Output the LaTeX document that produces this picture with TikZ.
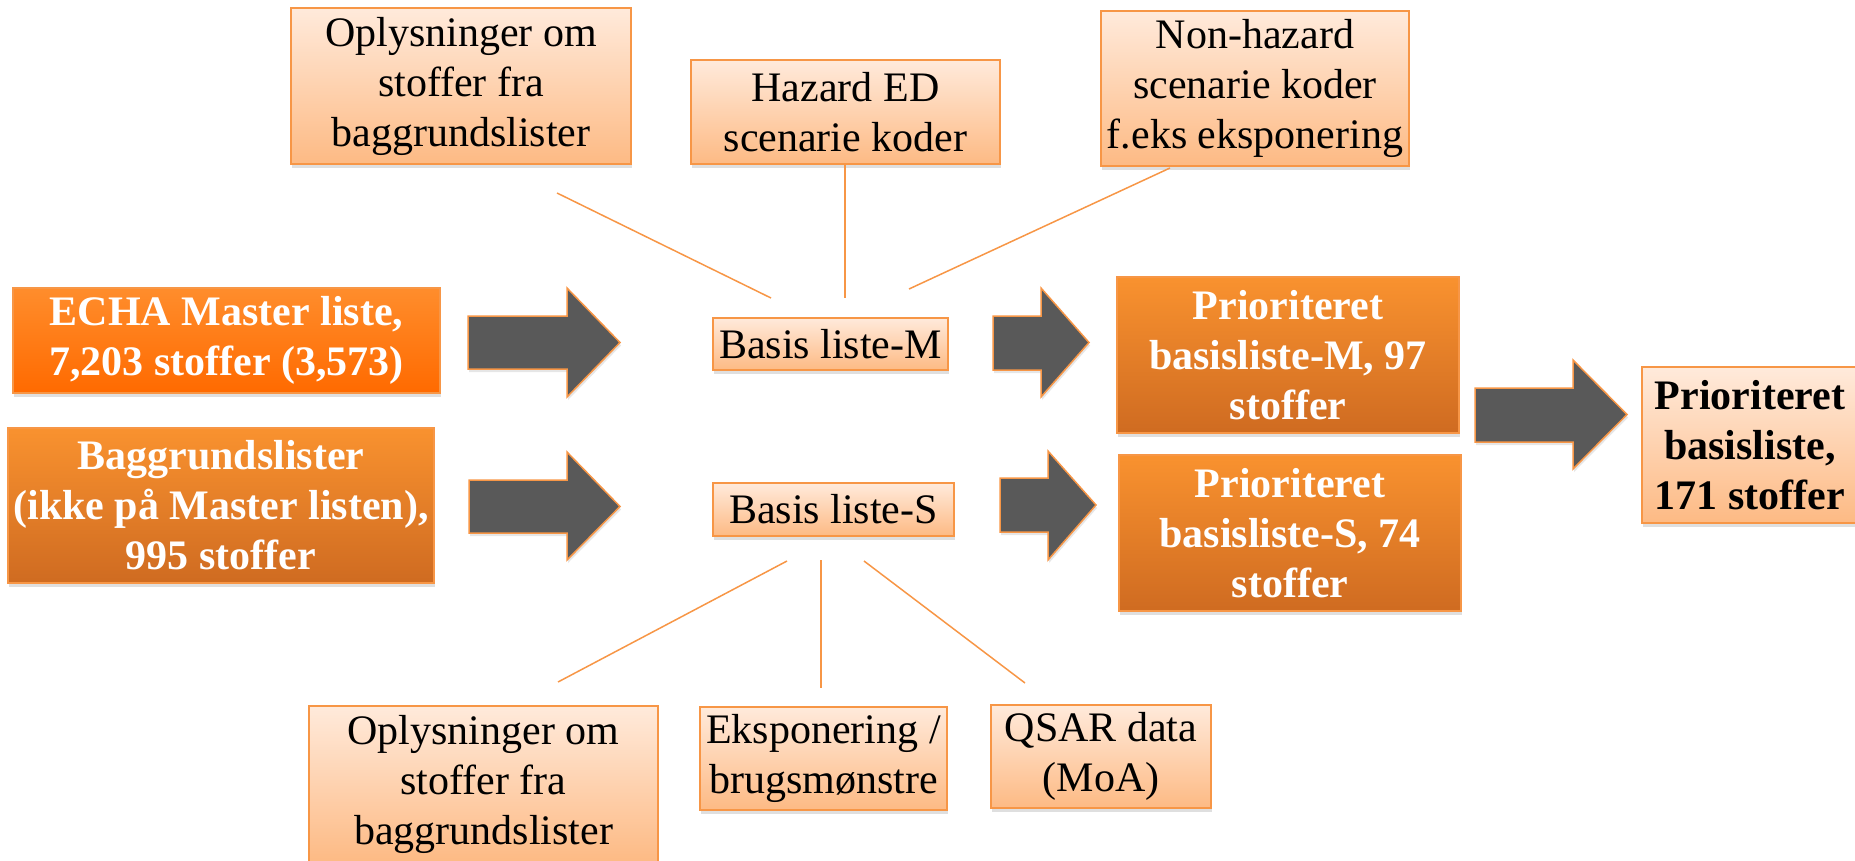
\documentclass[tikz,border=0pt]{standalone}
\usepackage{fontspec}
\setmainfont{Liberation Serif}
\usetikzlibrary{shadows}
\definecolor{accent}{HTML}{F79646}
\definecolor{lightT}{HTML}{FFEADB}
\definecolor{lightB}{HTML}{FDBA84}
\definecolor{darkT}{HTML}{F9922F}
\definecolor{darkB}{HTML}{CF6B21}
\definecolor{echaT}{HTML}{FF8D2C}
\definecolor{echaB}{HTML}{FF6A00}
\definecolor{arrowgray}{HTML}{595959}
\tikzset{
  box/.style={draw=accent, line width=1.5pt, inner sep=0pt, align=center,
    drop shadow={shadow xshift=1pt, shadow yshift=-4pt, opacity=0.25}},
  light/.style={box, top color=lightT, bottom color=lightB, text=black,
    font=\fontsize{42}{50}\selectfont},
  lightbold/.style={light, font=\fontsize{42}{50}\selectfont\bfseries},
  dark/.style={box, top color=darkT, bottom color=darkB, text=white,
    font=\fontsize{42}{50}\selectfont\bfseries},
  echa/.style={dark, top color=echaT, bottom color=echaB},
  blockarrow/.style={fill=arrowgray, draw=accent, line width=1.5pt, line join=miter,
    drop shadow={shadow xshift=1pt, shadow yshift=-3pt, opacity=0.2}},
  conn/.style={draw=accent, line width=1.5pt},
}
\begin{document}
\begin{tikzpicture}[x=1pt, y=-1pt]
\useasboundingbox (0,0) rectangle (1855,860);
% top boxes
\node[light, minimum width=340, minimum height=156] (topL) at (461,86) {Oplysninger om\\stoffer fra\\baggrundslister};
\node[light, minimum width=309, minimum height=104] (hazard) at (845.5,112) {Hazard ED\\scenarie koder};
\node[light, minimum width=308, minimum height=155] (nonhaz) at (1255,88.5) {Non-hazard\\scenarie koder\\f.eks eksponering};
% left boxes
\node[echa, minimum width=427, minimum height=105] (echa) at (226.5,340.5) {ECHA Master liste,\\7,203 stoffer (3,573)};
\node[dark, minimum width=426, minimum height=155] (bagg) at (221,505.5) {Baggrundslister\\(ikke på Master listen),\\995 stoffer};
% middle
\node[light, minimum width=235, minimum height=52] (basisM) at (830.5,344) {Basis liste-M};
\node[light, minimum width=241, minimum height=53] (basisS) at (833.5,509.5) {Basis liste-S};
% prioritised
\node[dark, minimum width=342, minimum height=156] (priM) at (1288,355) {Prioriteret\\basisliste-M, 97\\stoffer};
\node[dark, minimum width=342, minimum height=156] (priS) at (1290,533) {Prioriteret\\basisliste-S, 74\\stoffer};
\node[lightbold, minimum width=216, minimum height=156] (final) at (1750,445) {Prioriteret\\basisliste,\\171 stoffer};
% bottom boxes
\node[light, minimum width=349, minimum height=156] (botL) at (483.5,784) {Oplysninger om\\stoffer fra\\baggrundslister};
\node[light, minimum width=247, minimum height=103] (ekspo) at (823.5,758.5) {Eksponering /\\brugsmønstre};
\node[light, minimum width=220, minimum height=103] (qsar) at (1101,756.5) {QSAR data\\(MoA)};
% block arrows
\draw[blockarrow] (468,316) -- (567,316) -- (567,288) -- (620,342.5) -- (567,397) -- (567,369) -- (468,369) -- cycle;
\draw[blockarrow] (469,480) -- (567,480) -- (567,452) -- (620,506.5) -- (567,560) -- (567,533) -- (469,533) -- cycle;
\draw[blockarrow] (993,316) -- (1041,316) -- (1041,288) -- (1089,342.5) -- (1041,397) -- (1041,370) -- (993,370) -- cycle;
\draw[blockarrow] (1000,478) -- (1048,478) -- (1048,451) -- (1096,505) -- (1048,560) -- (1048,532) -- (1000,532) -- cycle;
\draw[blockarrow] (1475,388) -- (1573,388) -- (1573,360) -- (1627,414.5) -- (1573,469) -- (1573,442) -- (1475,442) -- cycle;
% connector lines
\coordinate (l1a) at (557,193); \coordinate (l1b) at (771,298);
\coordinate (l2a) at (845,164); \coordinate (l2b) at (845,298);
\coordinate (l3a) at (1170,168); \coordinate (l3b) at (909,289);
\coordinate (l4a) at (787,561); \coordinate (l4b) at (558,682);
\coordinate (l5a) at (821,560); \coordinate (l5b) at (821,688);
\coordinate (l6a) at (864,561); \coordinate (l6b) at (1025,683);
\draw[conn] (l1a) -- (l1b);
\draw[conn] (l2a) -- (l2b);
\draw[conn] (l3a) -- (l3b);
\draw[conn] (l4a) -- (l4b);
\draw[conn] (l5a) -- (l5b);
\draw[conn] (l6a) -- (l6b);
\end{tikzpicture}
\end{document}
